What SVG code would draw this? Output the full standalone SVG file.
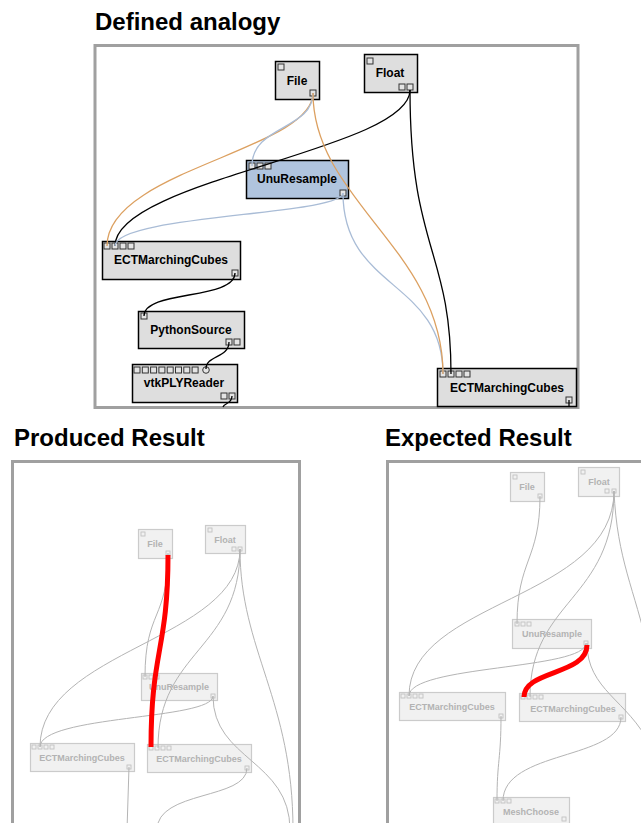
<svg xmlns="http://www.w3.org/2000/svg" width="641" height="823" viewBox="0 0 641 823">
<defs>
<style>
.title{font-family:"Liberation Sans",Arial,sans-serif;font-weight:bold;font-size:24px;fill:#000}
.frame{fill:#fff;stroke:#a0a0a0;stroke-width:3}
.n{fill:#dedede;stroke:#000;stroke-width:1.5}
.nb{fill:#b0c4de;stroke:#000;stroke-width:1.5}
.p{fill:#e4e4e4;stroke:#333;stroke-width:1}
.t{font-family:"Liberation Sans",Arial,sans-serif;font-weight:bold;font-size:12px;fill:#000;text-anchor:middle}
.gn{fill:#f1f1f1;stroke:#cbcbcb;stroke-width:1.2}
.gp{fill:none;stroke:#c2c2c2;stroke-width:0.9}
.gt{font-family:"Liberation Sans",Arial,sans-serif;font-weight:bold;font-size:9px;fill:#b3b3b3;text-anchor:middle}
.c{fill:none;stroke-width:1.3}
.k{stroke:#000}
.o{stroke:#dca060}
.b{stroke:#a9bcd6}
.g{fill:none;stroke:#b4b4b4;stroke-width:1}
.r{fill:none;stroke:#ff0000;stroke-width:5}
</style>
<clipPath id="cl"><rect x="13" y="463" width="286" height="370"/></clipPath>
<clipPath id="cr"><rect x="389" y="463" width="260" height="370"/></clipPath>
</defs>
<rect width="641" height="823" fill="#fff"/>

<text class="title" x="95" y="30">Defined analogy</text>
<text class="title" x="14" y="446">Produced Result</text>
<text class="title" x="385" y="446">Expected Result</text>

<rect class="frame" x="95" y="45.5" width="483" height="362"/>
<rect class="frame" x="12.5" y="461.5" width="287" height="380"/>
<rect class="frame" x="387.5" y="461.5" width="300" height="380"/>

<!-- Top panel nodes -->
<g id="top-file">
<rect class="n" x="275.5" y="61.5" width="44" height="38"/>
<rect class="p" x="278" y="64" width="6" height="6"/>
<rect class="p" x="310" y="90" width="6" height="6"/>
<text class="t" x="297" y="85">File</text>
</g>
<g id="top-float">
<rect class="n" x="364.5" y="54.5" width="53" height="38"/>
<rect class="p" x="367" y="58" width="6" height="6"/>
<rect class="p" x="399" y="84" width="6" height="6"/>
<rect class="p" x="407" y="84" width="6" height="6"/>
<text class="t" x="390" y="77">Float</text>
</g>
<g id="top-unuresample">
<rect class="nb" x="246.5" y="160.5" width="102" height="38"/>
<rect class="p" x="249" y="163" width="6" height="6"/>
<rect class="p" x="257" y="163" width="6" height="6"/>
<rect class="p" x="265" y="163" width="6" height="6"/>
<rect class="p" x="340" y="190" width="6" height="6"/>
<text class="t" x="297" y="183">UnuResample</text>
</g>
<g id="top-ect-left">
<rect class="n" x="102.5" y="241.5" width="138" height="38"/>
<rect class="p" x="104" y="243" width="6" height="6"/>
<rect class="p" x="112" y="243" width="6" height="6"/>
<rect class="p" x="120" y="243" width="6" height="6"/>
<rect class="p" x="128" y="243" width="6" height="6"/>
<rect class="p" x="232" y="270" width="6" height="6"/>
<text class="t" x="171" y="264">ECTMarchingCubes</text>
</g>
<g id="top-pythonsource">
<rect class="n" x="138.5" y="311.5" width="106" height="37"/>
<rect class="p" x="141" y="313" width="6" height="6"/>
<rect class="p" x="226" y="339" width="6" height="6"/>
<rect class="p" x="234" y="339" width="6" height="6"/>
<text class="t" x="191" y="334">PythonSource</text>
</g>
<g id="top-vtkplyreader">
<rect class="n" x="132.5" y="364.5" width="105" height="38"/>
<rect class="p" x="134" y="367" width="6" height="6"/>
<rect class="p" x="142.3" y="367" width="6" height="6"/>
<rect class="p" x="150.6" y="367" width="6" height="6"/>
<rect class="p" x="158.9" y="367" width="6" height="6"/>
<rect class="p" x="167.2" y="367" width="6" height="6"/>
<rect class="p" x="175.5" y="367" width="6" height="6"/>
<rect class="p" x="183.8" y="367" width="6" height="6"/>
<rect class="p" x="192.1" y="367" width="6" height="6"/>
<circle class="p" cx="206" cy="370" r="3.3"/>
<rect class="p" x="221" y="393" width="6" height="6"/>
<rect class="p" x="229" y="393" width="6" height="6"/>
<text class="t" x="184" y="387">vtkPLYReader</text>
</g>
<g id="top-ect-right">
<rect class="n" x="437.5" y="368.5" width="139" height="38"/>
<rect class="p" x="440" y="371" width="6" height="6"/>
<rect class="p" x="448" y="371" width="6" height="6"/>
<rect class="p" x="456" y="371" width="6" height="6"/>
<rect class="p" x="464" y="371" width="6" height="6"/>
<rect class="p" x="566" y="397" width="6" height="6"/>
<text class="t" x="507" y="392">ECTMarchingCubes</text>
</g>

<!-- Produced panel nodes -->
<g id="prod-file">
<rect class="gn" x="138.5" y="529.5" width="34" height="29"/>
<rect class="gp" x="141" y="532" width="4" height="4"/>
<rect class="gp" x="166" y="551" width="4" height="4"/>
<text class="gt" x="155" y="547">File</text>
</g>
<g id="prod-float">
<rect class="gn" x="205.5" y="525.5" width="40" height="28"/>
<rect class="gp" x="208" y="528" width="4" height="4"/>
<rect class="gp" x="232" y="547" width="4" height="4"/>
<rect class="gp" x="238" y="547" width="4" height="4"/>
<text class="gt" x="225" y="543">Float</text>
</g>
<g id="prod-unuresample">
<rect class="gn" x="141.5" y="673.5" width="76" height="27"/>
<rect class="gp" x="143" y="675" width="4" height="4"/>
<rect class="gp" x="149" y="675" width="4" height="4"/>
<rect class="gp" x="155" y="675" width="4" height="4"/>
<rect class="gp" x="211" y="694" width="4" height="4"/>
<text class="gt" x="179" y="690">UnuResample</text>
</g>
<g id="prod-ect-left">
<rect class="gn" x="30.5" y="743.5" width="104" height="28"/>
<rect class="gp" x="32" y="745" width="4" height="4"/>
<rect class="gp" x="38" y="745" width="4" height="4"/>
<rect class="gp" x="44" y="745" width="4" height="4"/>
<rect class="gp" x="50" y="745" width="4" height="4"/>
<rect class="gp" x="127" y="765" width="4" height="4"/>
<text class="gt" x="82" y="761">ECTMarchingCubes</text>
</g>
<g id="prod-ect-right">
<rect class="gn" x="147.5" y="744.5" width="104" height="28"/>
<rect class="gp" x="149" y="746" width="4" height="4"/>
<rect class="gp" x="155" y="746" width="4" height="4"/>
<rect class="gp" x="161" y="746" width="4" height="4"/>
<rect class="gp" x="167" y="746" width="4" height="4"/>
<rect class="gp" x="245" y="766" width="4" height="4"/>
<text class="gt" x="199" y="762">ECTMarchingCubes</text>
</g>

<!-- Expected panel nodes -->
<g id="exp-file">
<rect class="gn" x="510.5" y="472.5" width="34" height="29"/>
<rect class="gp" x="513" y="475" width="4" height="4"/>
<rect class="gp" x="538" y="494" width="4" height="4"/>
<text class="gt" x="527" y="490">File</text>
</g>
<g id="exp-float">
<rect class="gn" x="578.5" y="467.5" width="41" height="29"/>
<rect class="gp" x="581" y="470" width="4" height="4"/>
<rect class="gp" x="605" y="489" width="4" height="4"/>
<rect class="gp" x="612" y="489" width="4" height="4"/>
<text class="gt" x="599" y="485">Float</text>
</g>
<g id="exp-unuresample">
<rect class="gn" x="512.5" y="619.5" width="79" height="29"/>
<rect class="gp" x="515" y="622" width="4" height="4"/>
<rect class="gp" x="521" y="622" width="4" height="4"/>
<rect class="gp" x="527" y="622" width="4" height="4"/>
<rect class="gp" x="584" y="641" width="4" height="4"/>
<text class="gt" x="552" y="637">UnuResample</text>
</g>
<g id="exp-ect-left">
<rect class="gn" x="399.5" y="692.5" width="106" height="28"/>
<rect class="gp" x="401" y="694" width="4" height="4"/>
<rect class="gp" x="407" y="694" width="4" height="4"/>
<rect class="gp" x="413" y="694" width="4" height="4"/>
<rect class="gp" x="419" y="694" width="4" height="4"/>
<rect class="gp" x="499" y="714" width="4" height="4"/>
<text class="gt" x="452" y="710">ECTMarchingCubes</text>
</g>
<g id="exp-ect-right">
<rect class="gn" x="519.5" y="693.5" width="106" height="28"/>
<rect class="gp" x="521" y="695" width="4" height="4"/>
<rect class="gp" x="527" y="695" width="4" height="4"/>
<rect class="gp" x="533" y="695" width="4" height="4"/>
<rect class="gp" x="539" y="695" width="4" height="4"/>
<rect class="gp" x="619" y="715" width="4" height="4"/>
<text class="gt" x="573" y="712">ECTMarchingCubes</text>
</g>
<g id="exp-meshchoose">
<rect class="gn" x="493.5" y="797.5" width="76" height="40"/>
<rect class="gp" x="495" y="799" width="4" height="4"/>
<rect class="gp" x="501" y="799" width="4" height="4"/>
<rect class="gp" x="507" y="799" width="4" height="4"/>
<rect class="gp" x="562" y="817" width="4" height="4"/>
<text class="gt" x="531" y="815">MeshChoose</text>
</g>

<!-- Connectors -->
<g id="connectors">
<g id="top-connectors">
<path class="c k" d="M410,90 C410,150 115,180 115,246"/>
<path class="c o" d="M313,93 C313,150 107,170 107,246"/>
<path class="c b" d="M313,93 C313,130 252,125 252,166"/>
<path class="c b" d="M343,193 C343,215 115,215 115,246"/>
<path class="c b" d="M343,193 C343,290 443,280 443,374"/>
<path class="c o" d="M313,93 C313,200 443,250 443,374"/>
<path class="c k" d="M410,90 C410,250 451,250 451,374"/>
<path class="c k" d="M235,273 C235,300 144,290 144,316"/>
<path class="c k" d="M229,342 C229,358 206,355 206,369"/>
<path class="c k" d="M232,396 C232,404 224,403 223,407"/>
<path class="c k" d="M569,400 L569,406"/>
</g>
<g id="produced-connectors" clip-path="url(#cl)">
<path class="g" d="M168,553 C168,620 145,610 145,677"/>
<path class="g" d="M240,549 C240,640 40,650 40,747"/>
<path class="g" d="M240,549 C240,650 158,650 158,748"/>
<path class="g" d="M240,549 C240,650 293,700 293,830"/>
<path class="g" d="M213,696 C213,720 40,715 40,747"/>
<path class="g" d="M213,696 C213,760 290,760 290,830"/>
<path class="g" d="M129,767 L127,830"/>
<path class="g" d="M247,768 C247,800 157,790 157,830"/>
<path class="r" d="M168,555 C168,650 151,650 151,747"/>
</g>
<g id="expected-connectors" clip-path="url(#cr)">
<path class="g" d="M540,496 C540,560 517,560 517,624"/>
<path class="g" d="M614,491 C614,600 409,600 409,696"/>
<path class="g" d="M614,491 C614,600 530,600 530,697"/>
<path class="g" d="M614,491 C617,560 635,590 648,650"/>
<path class="g" d="M586,643 C586,670 409,665 409,696"/>
<path class="g" d="M587,643 C587,690 628,700 650,745"/>
<path class="g" d="M501,716 C501,760 497,760 497,801"/>
<path class="g" d="M621,717 C621,760 503,750 503,801"/>
<path class="r" d="M587,645 C587,675 524,670 524,697"/>
</g>
</g>
</svg>
